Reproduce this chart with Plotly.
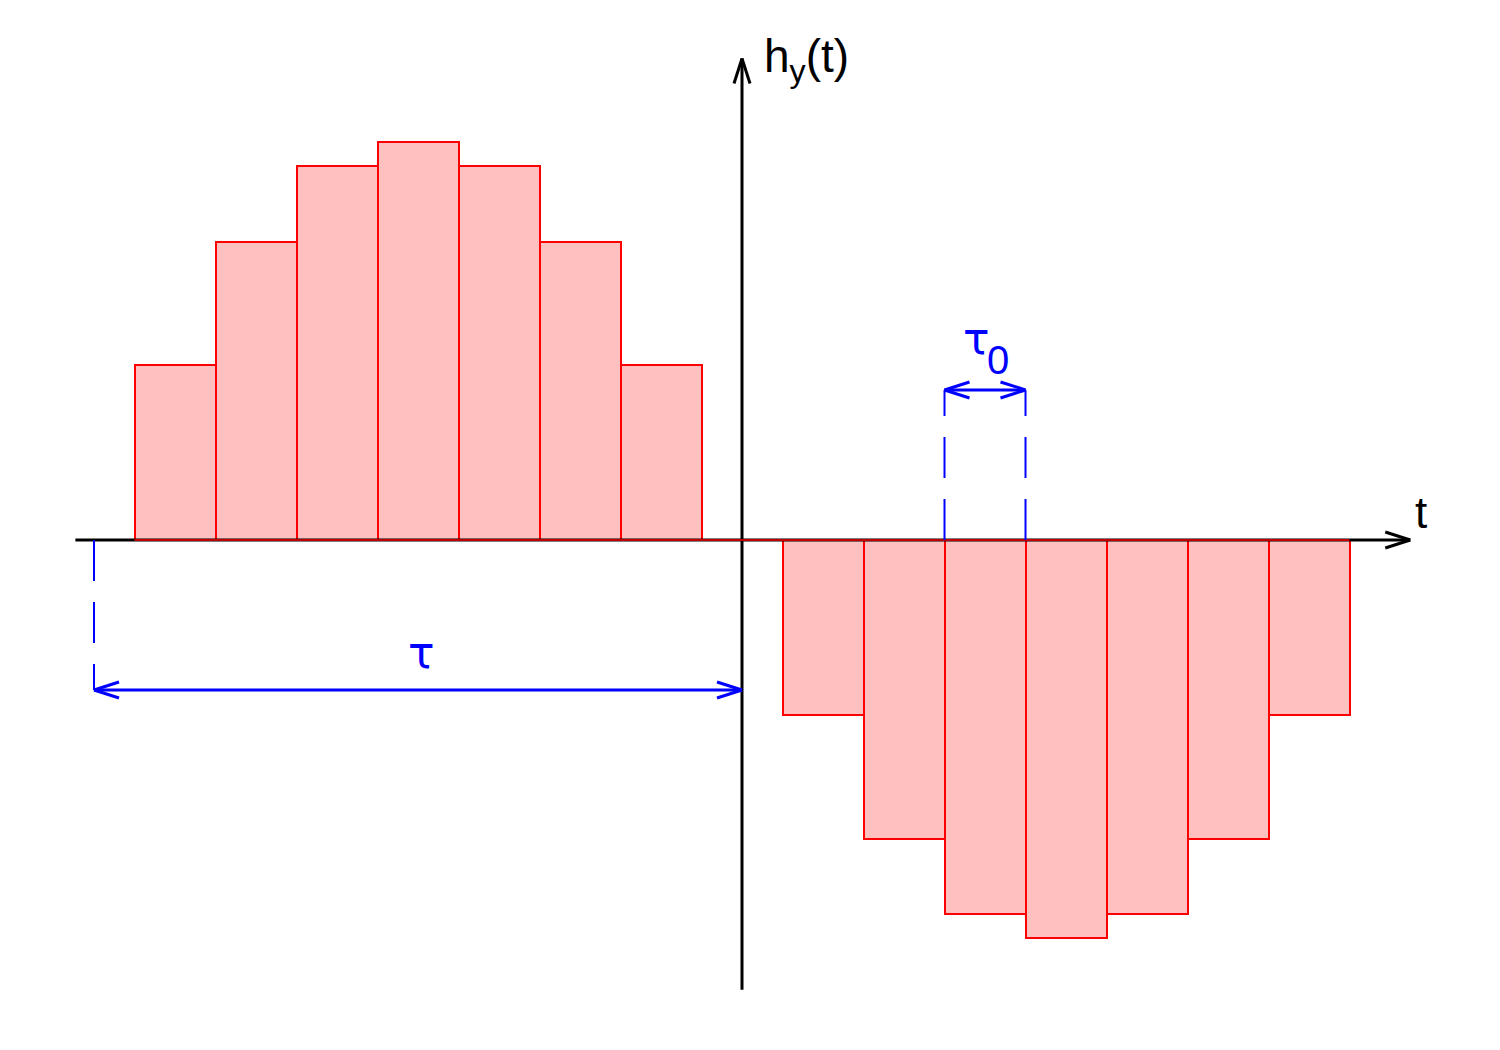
import math
import plotly.graph_objects as go

# ---- data ----
t_pos = [-7, -6, -5, -4, -3, -2, -1]
h_pos = [0.44, 0.75, 0.94, 1.0, 0.94, 0.75, 0.44]
t_neg = [1, 2, 3, 4, 5, 6, 7]
h_neg = [-0.44, -0.75, -0.94, -1.0, -0.94, -0.75, -0.44]

# annotation geometry in data units
x_axis_min, x_axis_max = -8.23, 8.25
y_axis_min, y_axis_max = -1.13, 1.21
tau_start, tau_end, tau_y = -8.0, 0.0, -0.377
tau0_start, tau0_end, tau0_y = 2.5, 3.5, 0.377

W, H = 1500, 1050
OX, OY = 734, 532          # pixel position of the origin inside the plot
XR = [-OX / 81, (W - OX) / 81]
YR = [-(H - OY) / 398, OY / 398]
sx = W / (XR[1] - XR[0])   # px per unit x
sy = H / (YR[1] - YR[0])   # px per unit y

BLUE = "#0000ff"
RED = "#ff0000"
FILL = "#ffc0c0"

fig = go.Figure()
fig.add_trace(go.Bar(x=t_pos, y=h_pos, width=1, marker=dict(color=FILL, line=dict(color=RED, width=2)),
                     showlegend=False, hoverinfo="skip"))
fig.add_trace(go.Bar(x=t_neg, y=h_neg, width=1, marker=dict(color=FILL, line=dict(color=RED, width=2)),
                     showlegend=False, hoverinfo="skip"))

shapes = []


def line(x0, y0, x1, y1, color, width, dash="solid", layer="above"):
    shapes.append(dict(type="line", x0=x0, y0=y0, x1=x1, y1=y1, xref="x", yref="y",
                       line=dict(color=color, width=width, dash=dash), layer=layer))


def head(xt, yt, dx, dy, color, width, L=25, Wd=8):
    # open V arrowhead at tip (xt,yt), pointing in pixel direction (dx,dy)
    n = math.hypot(dx, dy)
    ux, uy = dx / n, dy / n
    px, py = -uy, ux
    for s in (1, -1):
        ex = xt + (-ux * L + s * px * Wd) / sx
        ey = yt + (-uy * L + s * py * Wd) / sy
        line(ex, ey, xt, yt, color, width)


# axes
line(x_axis_min, 0, x_axis_max, 0, "black", 3)
head(x_axis_max, 0, 1, 0, "black", 3)
line(0, y_axis_min, 0, y_axis_max, "black", 3)
head(0, y_axis_max, 0, 1, "black", 3)
# red baseline across bars
line(t_pos[0] - 0.5, 0, t_neg[-1] + 0.5, 0, RED, 1.5)

# tau dimension
line(tau_start, 0, tau_start, tau_y, BLUE, 2, dash="41px,21px")
line(tau_start, tau_y, tau_end, tau_y, BLUE, 3)
head(tau_start, tau_y, -1, 0, BLUE, 3)
head(tau_end, tau_y, 1, 0, BLUE, 3)

# tau0 dimension
line(tau0_start, 0, tau0_start, tau0_y, BLUE, 2, dash="41px,21px")
line(tau0_end, 0, tau0_end, tau0_y, BLUE, 2, dash="41px,21px")
line(tau0_start, tau0_y, tau0_end, tau0_y, BLUE, 3)
head(tau0_start, tau0_y, -1, 0, BLUE, 3)
head(tau0_end, tau0_y, 1, 0, BLUE, 3)

FONT = "Liberation Sans, Arial, sans-serif"
GREEK = "DejaVu Sans, sans-serif"
annotations = [
    dict(x=0.25, y=y_axis_max - 0.003, xref="x", yref="y", text="h<sub>y</sub>(t)", showarrow=False,
         xanchor="left", yanchor="middle", font=dict(family=FONT, size=46, color="black")),
    dict(x=x_axis_max + 0.03, y=0.07, xref="x", yref="y", text="t", showarrow=False,
         xanchor="left", yanchor="middle", font=dict(family=FONT, size=44, color="black")),
    dict(x=(tau_start + tau_end) / 2 + 0.04, y=tau_y + 0.095, xref="x", yref="y", text="τ", showarrow=False,
         xanchor="center", yanchor="middle", font=dict(family=GREEK, size=44, color=BLUE)),
    dict(x=(tau0_start + tau0_end) / 2 - 0.1, y=tau0_y + 0.13, xref="x", yref="y", text="τ",
         showarrow=False, xanchor="center", yanchor="middle",
         font=dict(family=GREEK, size=44, color=BLUE)),
    dict(x=(tau0_start + tau0_end) / 2 + 0.16, y=tau0_y + 0.075, xref="x", yref="y", text="0",
         showarrow=False, xanchor="center", yanchor="middle",
         font=dict(family=FONT, size=40, color=BLUE)),
]

fig.update_layout(
    width=W, height=H,
    margin=dict(l=0, r=0, t=0, b=0),
    paper_bgcolor="white", plot_bgcolor="white",
    xaxis=dict(range=XR, visible=False, fixedrange=True),
    yaxis=dict(range=YR, visible=False, fixedrange=True),
    bargap=0, barmode="overlay",
    shapes=shapes, annotations=annotations,
)
fig.write_html("out.html")
